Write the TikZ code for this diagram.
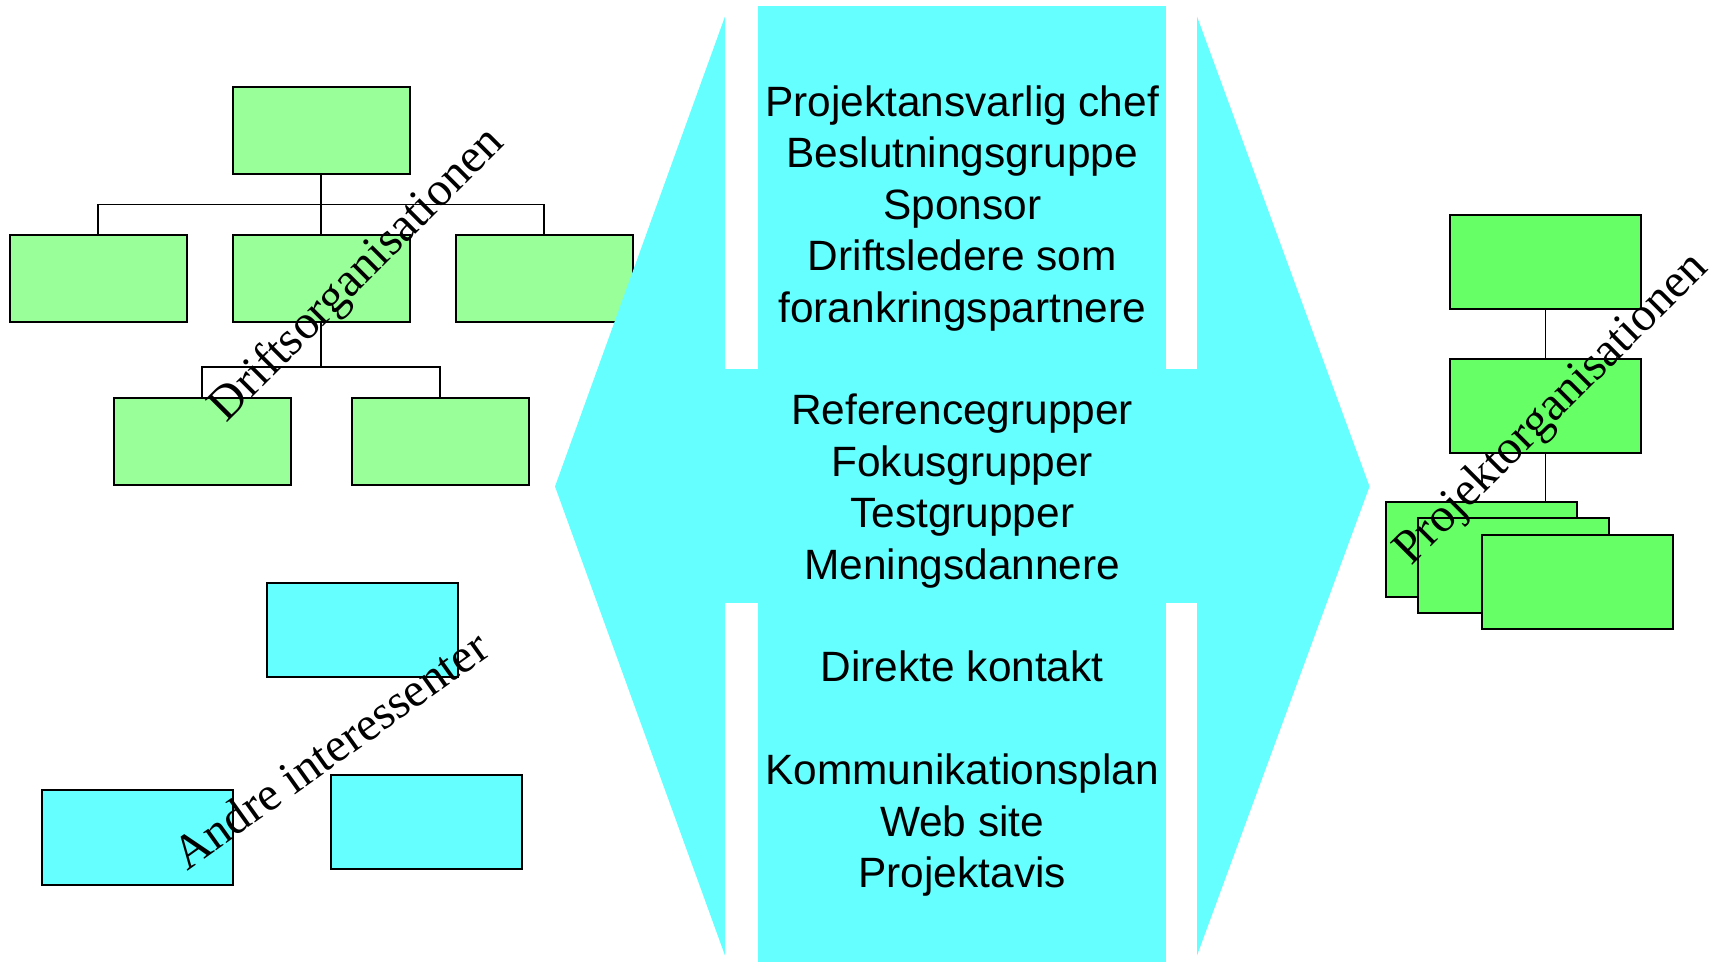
\documentclass[tikz,border=0pt]{standalone}
\usepackage{fontspec}
\setmainfont{Liberation Sans}
\newfontfamily\timesface{Liberation Serif}
\usetikzlibrary{calc}
\definecolor{orggreen}{RGB}{153,255,153}
\definecolor{projgreen}{RGB}{102,255,102}
\definecolor{aqua}{RGB}{102,255,255}

\begin{document}
\begin{tikzpicture}[x=1pt,y=-1pt,
  drbox/.style={draw=black, line width=2pt, fill=orggreen, minimum width=177pt, minimum height=87.5pt, inner sep=0pt},
  prbox/.style={draw=black, line width=2pt, fill=projgreen, minimum width=191pt, minimum height=94.5pt, inner sep=0pt},
  ibox/.style={draw=black, line width=2pt, fill=aqua, minimum width=191pt, minimum height=94.5pt, inner sep=0pt},
  link/.style={draw=black, line width=1.6pt},
  rowtext/.style={anchor=base, inner sep=0pt, font=\fontsize{42.4}{50}\selectfont},
  slant/.style={anchor=base west, inner sep=0pt, font=\timesface\fontsize{48}{56}\selectfont}]
\useasboundingbox (0,0) rectangle (1722,962);

% operating organisation (left tree)
\coordinate (barA) at (321.2,204.3);
\coordinate (barB) at (321.2,366.7);
\node[drbox] (top) at (321.2,130.3) {};
\node[drbox] (dA) at (98.2,278.3) {};
\node[drbox] (dB) at (321.2,278.3) {};
\node[drbox] (dC) at (544.2,278.3) {};
\node[drbox] (dD) at (202.2,441.5) {};
\node[drbox] (dE) at (440.2,441.5) {};
\draw[link] (top.south) -- (dB.north);
\draw[link] (dA.north) |- (barA) -| (dC.north);
\draw[link] (dB.south) -- (barB);
\draw[link] (dD.north) |- (barB) -| (dE.north);

% other stakeholders
\node[ibox] (i1) at (362,629.8) {};
\node[ibox] (i2) at (137.5,837.5) {};
\node[ibox] (i3) at (426.5,822) {};

% project organisation (right tree)
\node[prbox] (p1) at (1545.3,261.8) {};
\node[prbox] (p2) at (1545.3,405.8) {};
\coordinate (stacktop) at (1545.3,501.7);
\draw[link] (p1.south) -- (p2.north);
\draw[link] (p2.south) -- (stacktop);
\node[prbox] (s1) at (1481.7,549.7) {};
\node[prbox] (s2) at (1513.7,565.7) {};
\node[prbox] (s3) at (1577.7,581.8) {};

% double arrow in the middle
\fill[aqua] (555,486.5) -- (725,16.5) -- (725,955.5) -- cycle;
\fill[aqua] (1197,16.5) -- (1369.5,486.5) -- (1197,955.5) -- cycle;
\fill[aqua] (725,369) rectangle (1197,603);
\fill[aqua] (758,5.5) rectangle (1165.5,962);

\foreach \txt/\row [count=\k] in {Projektansvarlig chef/0, Beslutningsgruppe/1, Sponsor/2,
    Driftsledere som/3, forankringspartnere/4, Referencegrupper/6, Fokusgrupper/7,
    Testgrupper/8, Meningsdannere/9, Direkte kontakt/11, Kommunikationsplan/13,
    Web site/14, Projektavis/15}
  \node[rowtext] (line\k) at (962.2,{116.5+\row*51.4}) {\txt};

% slanted captions
\node[slant, rotate=45] (drift) at (226.7,423.3) {Driftsorganisationen};
\node[slant, rotate=45] (projekt) at (1411.7,566.7) {Projektorganisationen};
\node[slant, rotate=35.5] (andre) at (187,872) {Andre interessenter};
\end{tikzpicture}
\end{document}
